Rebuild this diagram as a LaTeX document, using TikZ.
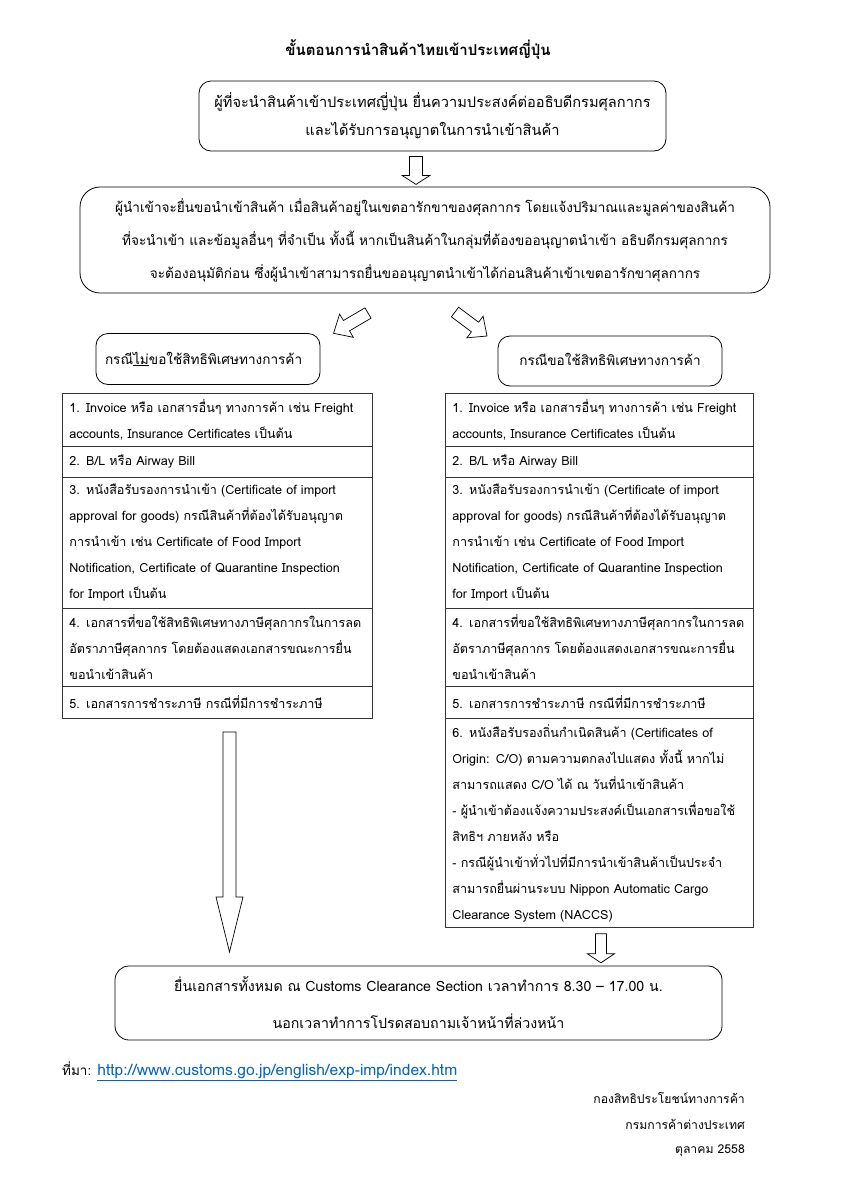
\documentclass[tikz,border=0pt]{standalone}
\usepackage{fontspec}
\setmainfont{Loma}[Script=Thai]
\usetikzlibrary{calc}
\definecolor{linkblue}{HTML}{0563C1}
\newcommand{\blockarr}[6]{%
  \draw[blk,shift={(#1)},rotate=#2] (0,-#4) -- ({#3-#6},-#4) -- ({#3-#6},-#5) -- (#3,0) -- ({#3-#6},#5) -- ({#3-#6},#4) -- (0,#4) -- cycle;}
\begin{document}
\begin{tikzpicture}[x=1pt,y=-1pt,
  rbox/.style={draw=black, line width=0.8pt, align=center, inner sep=0pt},
  cell/.style={draw=black!80, line width=0.8pt, anchor=north west, align=left,
    inner xsep=7pt, inner ysep=0pt, font=\fontsize{12.6}{26}\selectfont},
  blk/.style={draw=black, line width=0.7pt, fill=white, line join=miter},
  foot/.style={font=\fontsize{12.2}{20}\selectfont, inner sep=0pt}]
\useasboundingbox (0,0) rectangle (848,1200);
\fill[white] (0,0) rectangle (848,1200);

% title
\node[font=\fontsize{15}{18}\selectfont\bfseries] (title) at (418,50)
  {ขั้นตอนการนำสินค้าไทยเข้าประเทศญี่ปุ่น};

% box 1
\node[rbox, rounded corners=12pt, minimum width=467pt, minimum height=70pt,
  font=\fontsize{14.6}{28}\selectfont] (b1) at (432.5,116)
  {ผู้ที่จะนำสินค้าเข้าประเทศญี่ปุ่น ยื่นความประสงค์ต่ออธิบดีกรมศุลกากร\\
   และได้รับการอนุญาตในการนำเข้าสินค้า};

% box 2
\node[rbox, rounded corners=20pt, minimum width=690pt, minimum height=106pt,
  font=\fontsize{13.6}{33}\selectfont] (b2) at (425,240)
  {ผู้นำเข้าจะยื่นขอนำเข้าสินค้า เมื่อสินค้าอยู่ในเขตอารักขาของศุลกากร โดยแจ้งปริมาณและมูลค่าของสินค้า\\
   ที่จะนำเข้า และข้อมูลอื่นๆ ที่จำเป็น ทั้งนี้ หากเป็นสินค้าในกลุ่มที่ต้องขออนุญาตนำเข้า อธิบดีกรมศุลกากร\\
   จะต้องอนุมัติก่อน ซึ่งผู้นำเข้าสามารถยื่นขออนุญาตนำเข้าได้ก่อนสินค้าเข้าเขตอารักขาศุลกากร};

% case boxes
\node[rbox, rounded corners=12pt, minimum width=224pt, minimum height=51pt,
  text width=206pt, align=left, font=\fontsize{13.6}{16}\selectfont] (cl) at (208,359)
  {กรณี\underline{ไม่}ขอใช้สิทธิพิเศษทางการค้า};
\node[rbox, rounded corners=12pt, minimum width=224pt, minimum height=50pt,
  font=\fontsize{13.6}{16}\selectfont] (cr) at (610,361)
  {\raisebox{3pt}{กรณีขอใช้สิทธิพิเศษทางการค้า}};

% left table
\node[cell, minimum width=310pt, minimum height=53pt, text width=296pt] (l1) at (62,393)
  {1. Invoice หรือ เอกสารอื่นๆ ทางการค้า เช่น Freight\\accounts, Insurance Certificates เป็นต้น};
\node[cell, minimum width=310pt, minimum height=31pt, text width=296pt] (l2) at (62,446)
  {2. B/L หรือ Airway Bill};
\node[cell, minimum width=310pt, minimum height=131pt, text width=296pt] (l3) at (62,477)
  {3. หนังสือรับรองการนำเข้า (Certificate of import\\approval for goods) กรณีสินค้าที่ต้องได้รับอนุญาต\\การนำเข้า เช่น Certificate of Food Import\\Notification, Certificate of Quarantine Inspection\\for Import เป็นต้น};
\node[cell, minimum width=310pt, minimum height=78pt, text width=296pt] (l4) at (62,608)
  {4. เอกสารที่ขอใช้สิทธิพิเศษทางภาษีศุลกากรในการลด\\อัตราภาษีศุลกากร โดยต้องแสดงเอกสารขณะการยื่น\\ขอนำเข้าสินค้า};
\node[cell, minimum width=310pt, minimum height=32pt, text width=296pt] (l5) at (62,686)
  {5. เอกสารการชำระภาษี กรณีที่มีการชำระภาษี};

% right table
\node[cell, minimum width=308pt, minimum height=53pt, text width=294pt] (r1) at (445,393)
  {1. Invoice หรือ เอกสารอื่นๆ ทางการค้า เช่น Freight\\accounts, Insurance Certificates เป็นต้น};
\node[cell, minimum width=308pt, minimum height=31pt, text width=294pt] (r2) at (445,446)
  {2. B/L หรือ Airway Bill};
\node[cell, minimum width=308pt, minimum height=131pt, text width=294pt] (r3) at (445,477)
  {3. หนังสือรับรองการนำเข้า (Certificate of import\\approval for goods) กรณีสินค้าที่ต้องได้รับอนุญาต\\การนำเข้า เช่น Certificate of Food Import\\Notification, Certificate of Quarantine Inspection\\for Import เป็นต้น};
\node[cell, minimum width=308pt, minimum height=78pt, text width=294pt] (r4) at (445,608)
  {4. เอกสารที่ขอใช้สิทธิพิเศษทางภาษีศุลกากรในการลด\\อัตราภาษีศุลกากร โดยต้องแสดงเอกสารขณะการยื่น\\ขอนำเข้าสินค้า};
\node[cell, minimum width=308pt, minimum height=32pt, text width=294pt] (r5) at (445,686)
  {5. เอกสารการชำระภาษี กรณีที่มีการชำระภาษี};
\node[cell, minimum width=308pt, minimum height=209pt, text width=294pt] (r6) at (445,718)
  {6. หนังสือรับรองถิ่นกำเนิดสินค้า (Certificates of\\Origin: C/O) ตามความตกลงไปแสดง ทั้งนี้ หากไม่\\สามารถแสดง C/O ได้ ณ วันที่นำเข้าสินค้า\\- ผู้นำเข้าต้องแจ้งความประสงค์เป็นเอกสารเพื่อขอใช้\\สิทธิฯ ภายหลัง หรือ\\- กรณีผู้นำเข้าทั่วไปที่มีการนำเข้าสินค้าเป็นประจำ\\สามารถยื่นผ่านระบบ Nippon Automatic Cargo\\Clearance System (NACCS)};

% bottom box
\node[rbox, rounded corners=14pt, minimum width=607pt, minimum height=74pt,
  font=\fontsize{14.2}{37}\selectfont] (b3) at (418.5,1003)
  {ยื่นเอกสารทั้งหมด ณ Customs Clearance Section เวลาทำการ 8.30 – 17.00 น.\\
   นอกเวลาทำการโปรดสอบถามเจ้าหน้าที่ล่วงหน้า};

% block arrows
\coordinate (a1) at ($(b1.south)+(-16.5,5)$);
\coordinate (a2) at (368,313);
\coordinate (a3) at (455,312);
\coordinate (a4) at (229.5,732);
\coordinate (a5) at ($(r6.south)+(1.5,6)$);
\blockarr{a1}{-90}{28}{6.5}{14}{9}
\blockarr{a2}{210.5}{40}{6}{13.5}{15}
\blockarr{a3}{-36.9}{40}{6}{13.5}{15}
\blockarr{a4}{-90}{220}{6.5}{13.5}{55}
\blockarr{a5}{-90}{29}{5.5}{13.5}{9}

% footer
\node[foot, anchor=west, font=\fontsize{13.5}{20}\selectfont] (src) at (62,1071)
  {ที่มา: \textcolor{linkblue}{\fontsize{15.6}{20}\selectfont\underline{http://www.customs.go.jp/english/exp-imp/index.htm}}};
\node[foot, anchor=east] (f1) at (745,1098) {กองสิทธิประโยชน์ทางการค้า};
\node[foot, anchor=east] (f2) at (745,1124) {กรมการค้าต่างประเทศ};
\node[foot, anchor=east] (f3) at (745,1151) {ตุลาคม 2558};
\end{tikzpicture}
\end{document}
